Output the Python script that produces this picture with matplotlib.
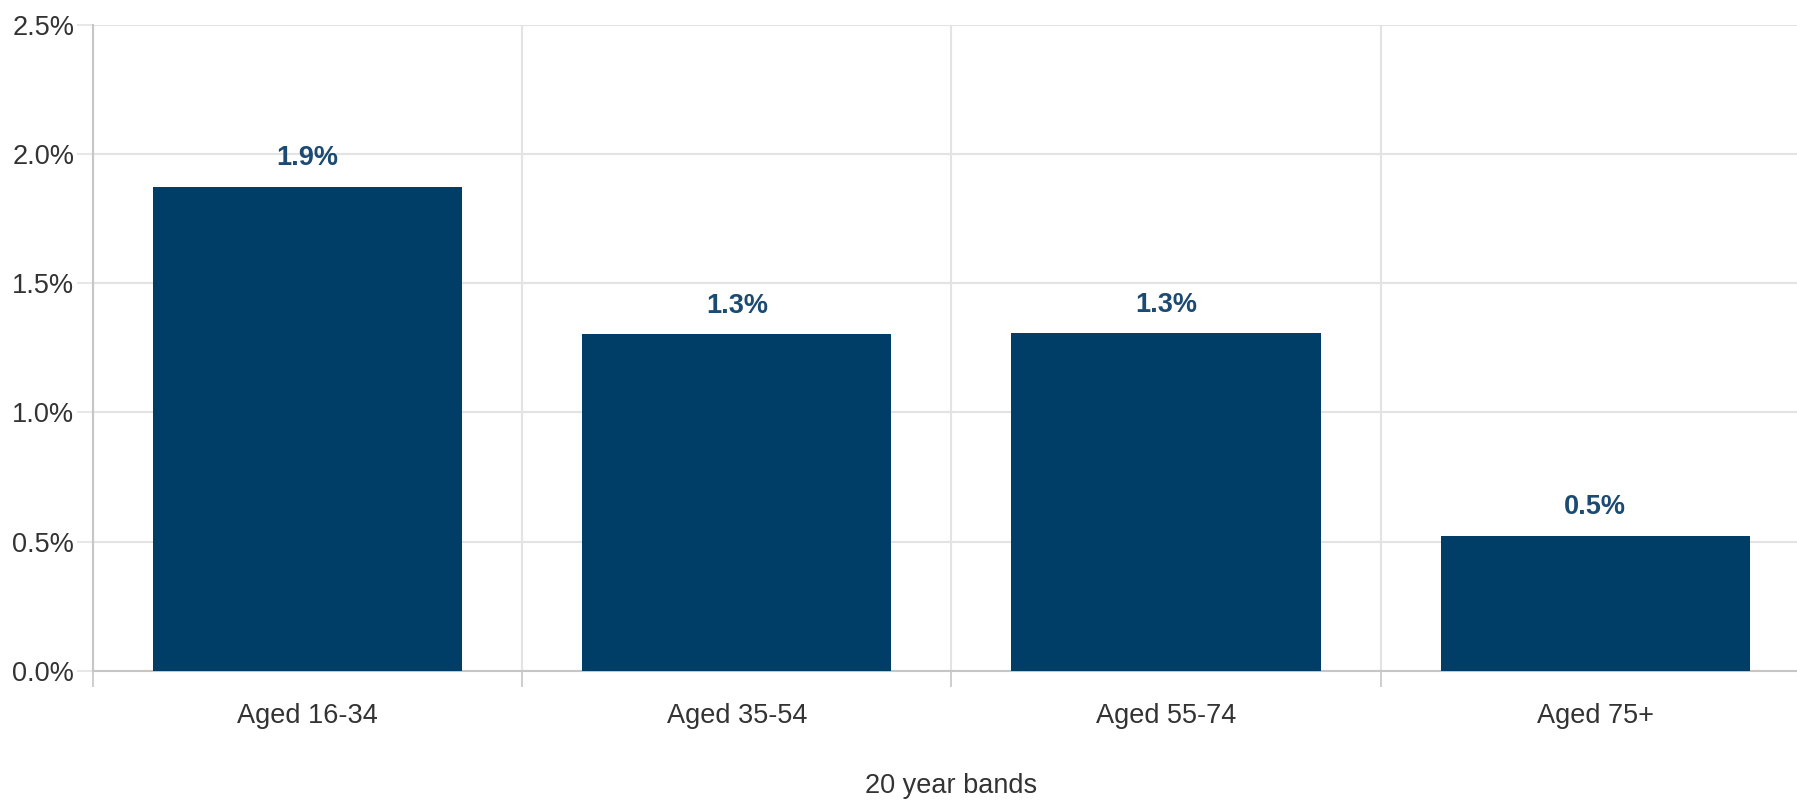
import numpy as np
import matplotlib.pyplot as plt
from matplotlib.ticker import FixedLocator, FuncFormatter

# Data
bands = ['Aged 16-34', 'Aged 35-54', 'Aged 55-74', 'Aged 75+']
rates = [1.874, 1.302, 1.307, 0.523]
labels = ['1.9%', '1.3%', '1.3%', '0.5%']

bar_color = '#003d67'
label_color = '#1b4a73'
grid_color = '#e3e3e3'
axis_color = '#c6c6c6'
text_color = '#333333'

plt.rcParams['font.family'] = ['Liberation Sans', 'DejaVu Sans']

fig = plt.figure(figsize=(17.97, 8), dpi=100)
ax = fig.add_axes([93 / 1797, 129.3 / 800, (1809.8 - 93) / 1797, (670.7 - 25) / 800])

x = np.arange(len(bands))
ax.bar(x, rates, width=0.72, color=bar_color, zorder=3)

for xi, v, s in zip(x, rates, labels):
    ax.annotate(s, (xi, v), xytext=(0, 11), textcoords='offset points',
                ha='center', va='bottom', fontsize=19.5, fontweight='bold',
                color=label_color, zorder=4)

ax.set_xlim(-0.5, len(bands) - 0.5)
ax.set_ylim(0, 2.5)

# y axis: percent ticks with gridlines
ax.set_yticks(np.arange(0, 2.51, 0.5))
ax.yaxis.set_major_formatter(FuncFormatter(lambda v, p: f'{v:.1f}%'))
ax.grid(axis='y', color=grid_color, linewidth=1.5, zorder=0)

# x axis: labels at band centres, ticks and gridlines at band edges
ax.set_xticks(x)
ax.set_xticklabels(bands)
ax.xaxis.set_minor_locator(FixedLocator(np.arange(-0.5, len(bands), 1.0)))
ax.grid(axis='x', which='minor', color=grid_color, linewidth=1.5, zorder=0)
ax.tick_params(axis='x', which='major', length=0, pad=23.5, labelsize=19.5, labelcolor=text_color)
ax.tick_params(axis='x', which='minor', length=11.5, width=1.2, color=axis_color, direction='out')
ax.tick_params(axis='y', length=11.5, width=1.2, color=grid_color, pad=2, labelsize=19.5, labelcolor=text_color)

for side in ['top', 'right']:
    ax.spines[side].set_visible(False)
for side in ['left', 'bottom']:
    ax.spines[side].set_color(axis_color)
    ax.spines[side].set_linewidth(1.5)

ax.set_xlabel('20 year bands', fontsize=19.5, color=text_color, labelpad=31.5)

fig.savefig('out.png', dpi=100)
